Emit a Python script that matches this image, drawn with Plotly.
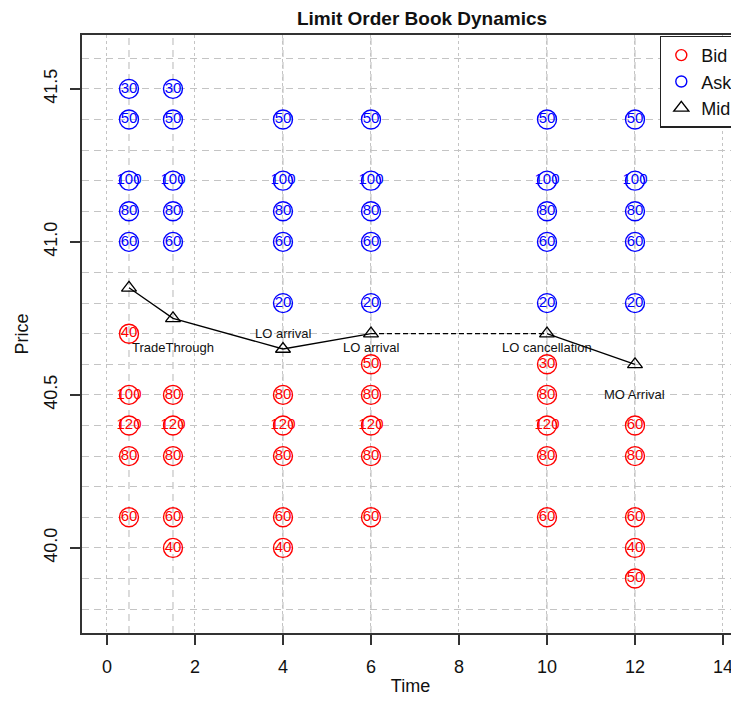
import plotly.graph_objects as go

# ---------------- data ----------------
event_times = [0.5, 1.5, 4, 6, 10, 12]

ask_time = [0.5, 0.5, 0.5, 0.5, 0.5,
            1.5, 1.5, 1.5, 1.5, 1.5,
            4, 4, 4, 4, 4,
            6, 6, 6, 6, 6,
            10, 10, 10, 10, 10,
            12, 12, 12, 12, 12]
ask_price = [41.5, 41.4, 41.2, 41.1, 41.0,
             41.5, 41.4, 41.2, 41.1, 41.0,
             41.4, 41.2, 41.1, 41.0, 40.8,
             41.4, 41.2, 41.1, 41.0, 40.8,
             41.4, 41.2, 41.1, 41.0, 40.8,
             41.4, 41.2, 41.1, 41.0, 40.8]
ask_size = [30, 50, 100, 80, 60,
            30, 50, 100, 80, 60,
            50, 100, 80, 60, 20,
            50, 100, 80, 60, 20,
            50, 100, 80, 60, 20,
            50, 100, 80, 60, 20]

bid_time = [0.5, 0.5, 0.5, 0.5, 0.5,
            1.5, 1.5, 1.5, 1.5, 1.5,
            4, 4, 4, 4, 4,
            6, 6, 6, 6, 6,
            10, 10, 10, 10, 10,
            12, 12, 12, 12, 12]
bid_price = [40.7, 40.5, 40.4, 40.3, 40.1,
             40.5, 40.4, 40.3, 40.1, 40.0,
             40.5, 40.4, 40.3, 40.1, 40.0,
             40.6, 40.5, 40.4, 40.3, 40.1,
             40.6, 40.5, 40.4, 40.3, 40.1,
             40.4, 40.3, 40.1, 40.0, 39.9]
bid_size = [40, 100, 120, 80, 60,
            80, 120, 80, 60, 40,
            80, 120, 80, 60, 40,
            50, 80, 120, 80, 60,
            30, 80, 120, 80, 60,
            60, 80, 60, 40, 50]

mid_time = [0.5, 1.5, 4, 6, 10, 12]
mid_price = [40.85, 40.75, 40.65, 40.70, 40.70, 40.60]

event_labels = ["TradeThrough", "LO arrival", "LO arrival", "LO cancellation", "MO Arrival"]
event_label_x = [1.5, 4, 6, 10, 12]
event_label_y = [40.655, 40.70, 40.655, 40.655, 40.50]

x_ticks = [0, 2, 4, 6, 8, 10, 12, 14]
y_ticks = [40.0, 40.5, 41.0, 41.5]

# ---------------- figure ----------------
RED = "#FF0000"
BLUE = "#0000FF"
GRID = "#C4C4C4"
FONT = "Liberation Sans, Arial, Helvetica, sans-serif"
NARROW = "Liberation Sans Narrow, Arial Narrow, Liberation Sans, Arial, sans-serif"

# the page body adds an 8px offset; keep the height inside the window
W, H = 739, 688
OFF = 8

fig = go.Figure()

# mid price line (solid, with dashed segment between 6 and 10)
solid_x = mid_time[0:4] + [None] + mid_time[4:6]
solid_y = mid_price[0:4] + [None] + mid_price[4:6]
fig.add_trace(go.Scatter(x=solid_x, y=solid_y, mode="lines",
                         line=dict(color="black", width=1.3),
                         showlegend=False, hoverinfo="skip"))
fig.add_trace(go.Scatter(x=mid_time[3:5], y=mid_price[3:5], mode="lines",
                         line=dict(color="black", width=1.3, dash="5px,3px"),
                         showlegend=False, hoverinfo="skip"))

# ask and bid circles with size labels
fig.add_trace(go.Scatter(x=ask_time, y=ask_price, mode="markers+text",
                         text=[str(s) for s in ask_size], textposition="middle center",
                         textfont=dict(family=NARROW, size=15, color=BLUE),
                         marker=dict(symbol="circle-open", size=19, color=BLUE,
                                     line=dict(width=1.4, color=BLUE)),
                         showlegend=False))
fig.add_trace(go.Scatter(x=bid_time, y=bid_price, mode="markers+text",
                         text=[str(s) for s in bid_size], textposition="middle center",
                         textfont=dict(family=NARROW, size=15, color=RED),
                         marker=dict(symbol="circle-open", size=19, color=RED,
                                     line=dict(width=1.4, color=RED)),
                         showlegend=False))

# mid markers
fig.add_trace(go.Scatter(x=mid_time, y=mid_price, mode="markers",
                         marker=dict(symbol="triangle-up-open", size=13, color="black",
                                     line=dict(width=1.3, color="black")),
                         showlegend=False))

# legend-only entries
fig.add_trace(go.Scatter(x=[None], y=[None], mode="markers", name="Bid",
                         marker=dict(symbol="circle-open", size=11, color=RED,
                                     line=dict(width=1.4, color=RED))))
fig.add_trace(go.Scatter(x=[None], y=[None], mode="markers", name="Ask",
                         marker=dict(symbol="circle-open", size=11, color=BLUE,
                                     line=dict(width=1.4, color=BLUE))))
fig.add_trace(go.Scatter(x=[None], y=[None], mode="markers", name="Mid",
                         marker=dict(symbol="triangle-up-open", size=13, color="black",
                                     line=dict(width=1.4, color="black"))))

# event annotations
for lx, ly, lt in zip(event_label_x, event_label_y, event_labels):
    fig.add_annotation(x=lx, y=ly, text=lt, showarrow=False,
                       font=dict(family=FONT, size=13, color="#111111"),
                       xanchor="center", yanchor="middle")

# vertical dashed lines at event times
for t in event_times:
    fig.add_shape(type="line", xref="x", yref="paper", x0=t, x1=t, y0=0, y1=1,
                  line=dict(color=GRID, width=1.2, dash="7px,5px"), layer="below")

fig.update_layout(
    width=W, height=H,
    margin=dict(l=82 - OFF, r=OFF, t=35 - OFF, b=(H + OFF) - 633, autoexpand=False),
    paper_bgcolor="white", plot_bgcolor="white",
    font=dict(family=FONT, size=18, color="#111111"),
    title=dict(text="<b>Limit Order Book Dynamics</b>", x=(422 - OFF) / W, xref="container",
               xanchor="center", y=1 - (18 - OFF) / H, yref="container", yanchor="middle",
               font=dict(family=FONT, size=19, color="#111111")),
    showlegend=True,
    legend=dict(x=(660 - 82) / (739 - 82), xanchor="left", y=0.999, yanchor="top",
                bgcolor="white", bordercolor="#222222", borderwidth=1.3,
                font=dict(family=FONT, size=18, color="#111111"),
                itemwidth=30, tracegroupgap=0),
)

fig.update_xaxes(
    range=[-0.568, 14.364], tickvals=x_ticks, ticktext=[str(v) for v in x_ticks],
    showline=True, linecolor="#333333", linewidth=1.5, mirror=True,
    ticks="outside", ticklen=10, tickwidth=1.5, tickcolor="#333333",
    ticklabelstandoff=7, tickfont=dict(size=18),
    showgrid=True, gridcolor=GRID, gridwidth=1, griddash="dot",
    zeroline=False,
    title=dict(text="Time", standoff=12, font=dict(family=FONT, size=18, color="#111111")),
)
fig.update_yaxes(
    range=[39.722, 41.676], tickvals=y_ticks, ticktext=[f"{v:.1f}" for v in y_ticks],
    tickangle=-90, tickfont=dict(size=18),
    showline=True, linecolor="#333333", linewidth=1.5, mirror=False,
    ticks="outside", ticklen=10, tickwidth=1.5, tickcolor="#333333",
    ticklabelstandoff=6,
    showgrid=True, gridcolor=GRID, gridwidth=1.2, griddash="7px,5px",
    minor=dict(dtick=0.1, tick0=39.8, showgrid=True, gridcolor=GRID, gridwidth=1.2,
               griddash="7px,5px", ticks=""),
    zeroline=False,
    title=dict(text="Price", standoff=8, font=dict(family=FONT, size=18, color="#111111")),
)

fig.write_html("out.html")
